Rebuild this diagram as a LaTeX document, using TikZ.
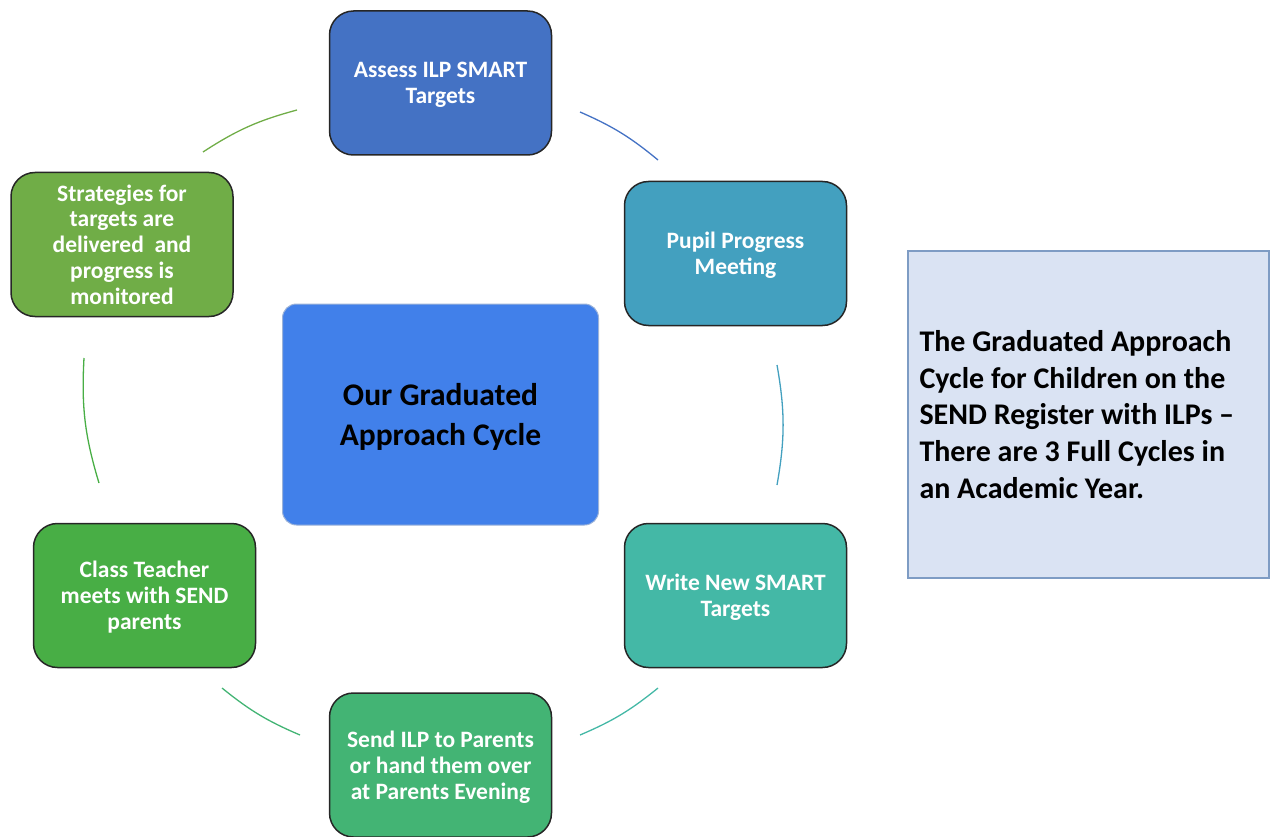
\documentclass[tikz,border=0pt]{standalone}
\usepackage{fontspec}
\setmainfont{Carlito}
\definecolor{assesscol}{HTML}{4472C4}
\definecolor{pupilcol}{HTML}{43A0BF}
\definecolor{writecol}{HTML}{44B8A6}
\definecolor{sendcol}{HTML}{43B474}
\definecolor{classcol}{HTML}{48AE45}
\definecolor{stratcol}{HTML}{70AD47}
\definecolor{hubcol}{HTML}{4180EA}
\definecolor{notefill}{HTML}{DAE3F3}
\definecolor{notedraw}{HTML}{7E9CC4}
\begin{document}
\begin{tikzpicture}[x=1pt,y=1pt,
		stage/.style={draw=black!85,line width=1.5pt,rounded corners=24pt,
			minimum width=222pt,minimum height=144pt,inner sep=0pt,text depth=0pt,
			text=white,align=center,font=\fontsize{23.5}{25.8}\selectfont\bfseries},
		link/.style={line width=1.3pt,bend left=#1},
		link/.default=9]
	\useasboundingbox (0,0) rectangle (1273,-837);
	% the six stages of the cycle
	\node[stage,fill=assesscol] (assess) at (440.5,-83) {Assess ILP SMART\\Targets};
	\node[stage,fill=pupilcol] (pupil) at (735.5,-253.5) {Pupil Progress\\Meeting};
	\node[stage,fill=writecol] (write) at (735.5,-595.5) {Write New SMART\\Targets};
	\node[stage,fill=sendcol] (send) at (440.5,-765) {Send ILP to Parents\\or hand them over\\at Parents Evening};
	\node[stage,fill=classcol] (class) at (144.5,-595.5) {Class Teacher\\meets with SEND\\parents};
	\node[stage,fill=stratcol] (strat) at (122,-244.5) {Strategies for\\targets are\\delivered\ \ and\\progress is\\monitored};
	% centre and side note
	\node[draw=hubcol!60!gray!60,line width=1pt,fill=hubcol,rounded corners=14pt,
		minimum width=316pt,minimum height=221pt,align=center,text depth=0pt,
		font=\fontsize{31.5}{40}\selectfont\bfseries] (hub) at (440.5,-414.5) {Our Graduated\\Approach Cycle};
	\node[draw=notedraw,line width=2pt,fill=notefill,minimum width=361pt,minimum height=327pt,
		inner xsep=12pt,text width=337pt,align=flush left,
		font=\fontsize{30}{36.7}\selectfont\bfseries] (note) at (1088,-414.5)
		{The Graduated Approach\\Cycle for Children on the\\SEND Register with ILPs –\\There are 3 Full Cycles in\\an Academic Year.};
	% arc ends
	\coordinate (sa) at (203,-152);
	\coordinate (sb) at (297,-110);
	\coordinate (aa) at (580,-112);
	\coordinate (ab) at (658,-160);
	\coordinate (pa) at (777,-365);
	\coordinate (pb) at (777,-485);
	\coordinate (wa) at (658,-688);
	\coordinate (wb) at (580,-735);
	\coordinate (na) at (300,-735);
	\coordinate (nb) at (222,-688);
	\coordinate (ca) at (99,-483);
	\coordinate (cb) at (84,-358);
	\draw[link,stratcol] (sa) to (sb);
	\draw[link=8,assesscol] (aa) to (ab);
	\draw[link=10,pupilcol] (pa) to (pb);
	\draw[link=8,writecol] (wa) to (wb);
	\draw[link=8,sendcol] (na) to (nb);
	\draw[link=10,classcol] (ca) to (cb);
\end{tikzpicture}
\end{document}
